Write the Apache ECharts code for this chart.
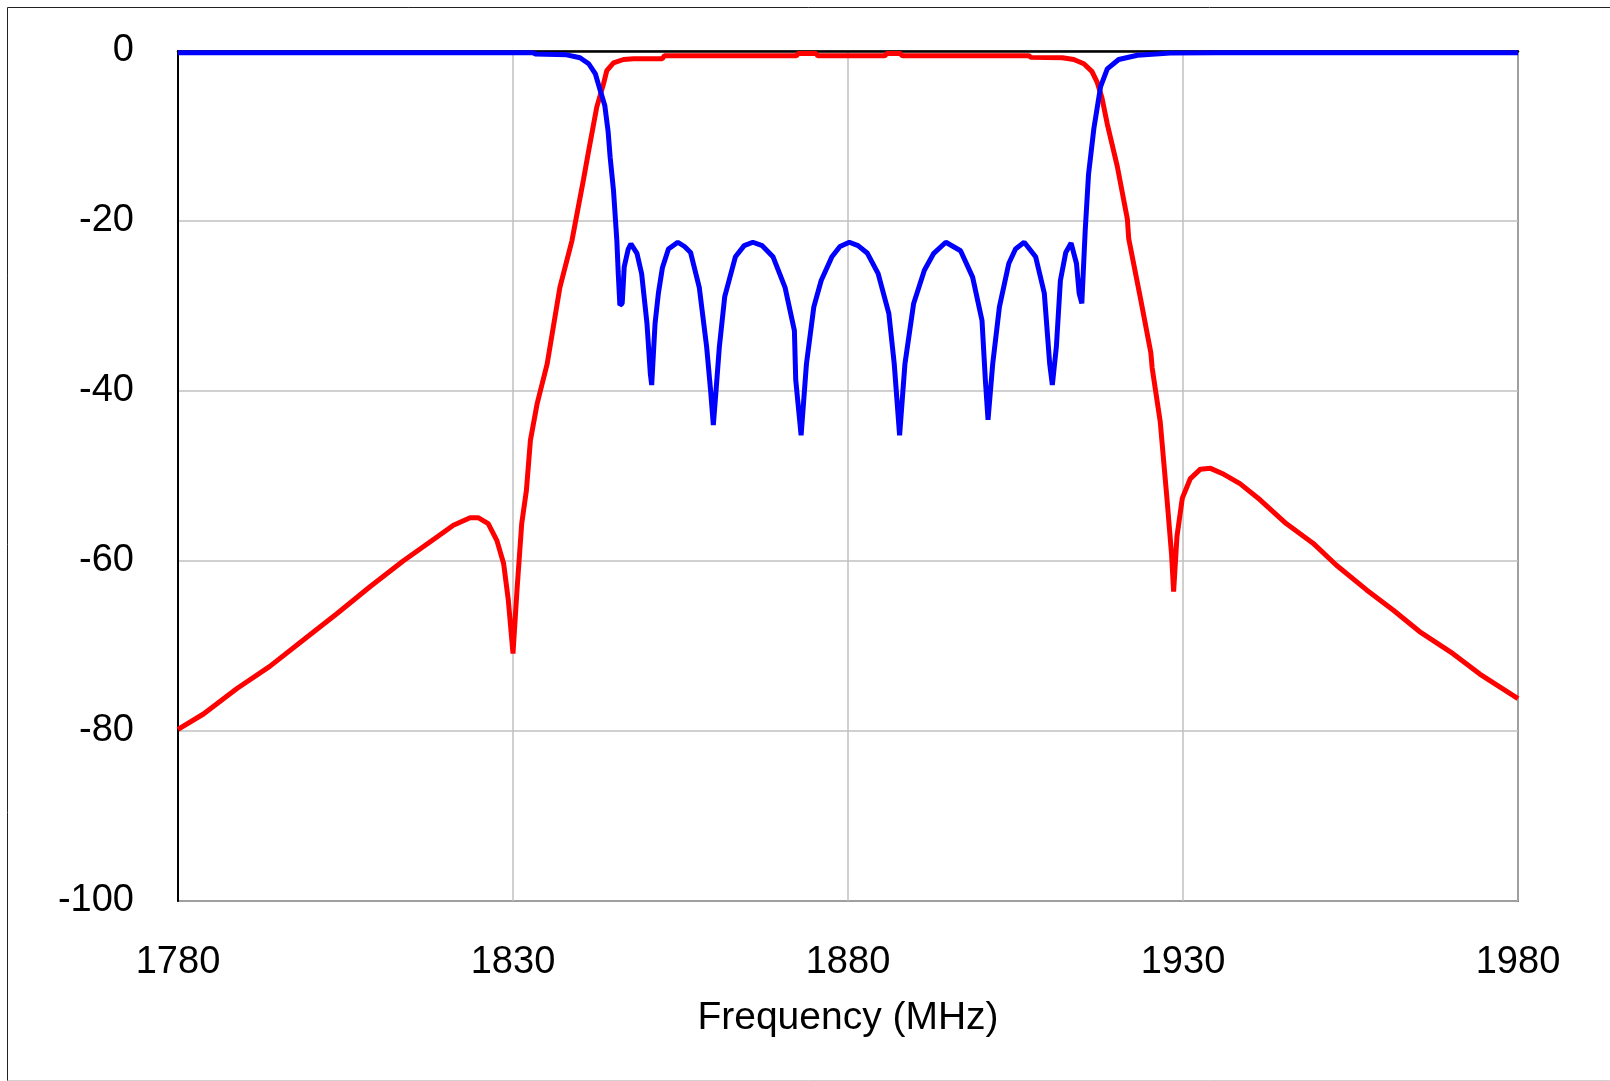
<!DOCTYPE html>
<html>
<head>
<meta charset="utf-8">
<title>Filter response</title>
<script src="https://cdn.jsdelivr.net/npm/echarts@6/dist/echarts.min.js"></script>
<style>
  html, body { margin: 0; padding: 0; background: #fff; }
  #chart { width: 1610px; height: 1081px; }
</style>
</head>
<body>
<div id="chart"></div>
<script>
// S21 (red) - transmission, dB
const s21Freq = [1780, 1783.8, 1788.8, 1793.7, 1798.7, 1803.7, 1808.7, 1813.6, 1818.6, 1821.1, 1823.6, 1824.8,
  1826.3, 1827.6, 1828.6, 1829.3, 1830.0, 1830.6, 1831.3, 1832.0, 1832.6, 1833.6, 1835.1, 1837.0, 1838.8,
  1840.5, 1841.3, 1842.5, 1843.5, 1844.0, 1845.0, 1846.5, 1848.0, 1852.3, 1852.6, 1872.3, 1872.6, 1875.2,
  1875.5, 1885.5, 1885.8, 1887.8, 1888.1, 1907.0, 1907.3, 1912.0, 1913.7, 1915.2, 1916.4, 1917.2, 1917.9,
  1918.7, 1920.2, 1921.7, 1921.9, 1923.7, 1925.2, 1925.4, 1926.6, 1927.6, 1928.3, 1928.6, 1929.1, 1929.9,
  1931.1, 1932.6, 1934.1, 1936.1, 1938.5, 1941.5, 1945.4, 1949.4, 1952.9, 1957.4, 1961.4, 1965.3, 1970.3,
  1974.3, 1980];
const s21Db = [-79.8, -78.0, -75.0, -72.4, -69.3, -66.2, -63.0, -60.0, -57.2, -55.8, -54.9, -54.9,
  -55.6, -57.6, -60.3, -64.6, -70.9, -63.4, -55.6, -51.7, -45.8, -41.5, -36.8, -27.8, -22.3,
  -15.2, -11.7, -6.6, -3.9, -2.3, -1.4, -1.0, -0.9, -0.9, -0.55, -0.55, -0.3, -0.3,
  -0.55, -0.55, -0.3, -0.3, -0.55, -0.55, -0.75, -0.8, -1.0, -1.5, -2.4, -3.7, -5.5,
  -8.6, -13.6, -19.8, -22.1, -29.3, -35.5, -37.3, -43.6, -52.6, -59.3, -63.6, -57.1, -52.6,
  -50.3, -49.2, -49.1, -49.8, -50.9, -52.8, -55.6, -57.9, -60.5, -63.4, -65.8, -68.3, -70.9,
  -73.3, -76.2];

// S11 (blue) - reflection, dB
const s11Freq = [1780, 1833.0, 1833.3, 1838.0, 1840.0, 1841.3, 1842.3, 1843.0, 1843.7, 1844.2, 1844.5, 1845.0,
  1845.5, 1845.7, 1845.95, 1846.3, 1846.6, 1847.2, 1847.6, 1848.5, 1849.2, 1850.0, 1850.5, 1850.7, 1851.2,
  1851.7, 1852.3, 1853.2, 1854.6, 1855.6, 1856.5, 1857.8, 1858.9, 1859.5, 1859.9, 1860.3, 1860.8, 1861.6,
  1863.2, 1864.5, 1865.8, 1867.2, 1868.8, 1870.6, 1872.0, 1872.2, 1873.0, 1873.8, 1874.9, 1876.0, 1877.6,
  1878.8, 1880.2, 1881.5, 1882.9, 1884.5, 1886.1, 1886.9, 1887.7, 1888.5, 1889.8, 1891.4, 1892.8, 1894.6,
  1896.8, 1898.6, 1900.0, 1900.5, 1900.9, 1901.6, 1902.6, 1904.0, 1905.0, 1906.3, 1908.0, 1909.3, 1910.1,
  1910.5, 1911.1, 1911.7, 1912.5, 1913.3, 1914.1, 1914.5, 1914.9, 1915.4, 1915.9, 1916.7, 1917.7, 1918.7,
  1920.4, 1923.2, 1928.1, 1935.0, 1980];
const s11Db = [-0.2, -0.2, -0.35, -0.45, -0.8, -1.5, -2.7, -4.6, -6.4, -9.5, -12.5, -16.4,
  -22.3, -26.0, -29.9, -29.7, -25.4, -23.3, -22.7, -23.8, -26.2, -32.1, -38.0, -39.3, -32.1,
  -28.5, -25.5, -23.3, -22.5, -23.0, -23.7, -27.8, -34.8, -40.0, -44.0, -40.0, -34.8, -28.9,
  -24.2, -22.9, -22.5, -22.9, -24.2, -27.8, -32.9, -38.7, -45.2, -36.8, -30.1, -27.0, -24.2,
  -23.0, -22.5, -22.9, -23.8, -26.2, -30.9, -36.8, -45.2, -36.8, -29.7, -25.8, -23.8, -22.5,
  -23.5, -26.6, -31.7, -38.7, -43.4, -36.8, -30.1, -25.0, -23.3, -22.5, -24.2, -28.5, -36.8,
  -39.3, -34.8, -27.0, -23.7, -22.6, -25.0, -28.5, -29.7, -21.2, -14.5, -9.1, -4.2, -2.1,
  -1.0, -0.5, -0.25, -0.2, -0.2];

const xTicks = [1780, 1830, 1880, 1930, 1980];
const yTicks = [-100, -80, -60, -40, -20, 0];

const pairs = (xs, ys) => xs.map((x, i) => [x, ys[i]]);
const labelFont = { fontFamily: '"Liberation Sans", Arial, sans-serif', fontSize: 38, color: '#000' };

const chart = echarts.init(document.getElementById('chart'));
chart.setOption({
  animation: false,
  backgroundColor: '#fff',
  grid: {
    left: 178, right: 92, top: 51, bottom: 180,
    show: true, borderColor: '#000', borderWidth: 1.5
  },
  xAxis: {
    type: 'value',
    min: xTicks[0], max: xTicks[xTicks.length - 1], interval: 50,
    name: 'Frequency (MHz)',
    nameLocation: 'middle',
    nameGap: 98,
    nameTextStyle: Object.assign({}, labelFont, { fontSize: 39 }),
    axisLine: { show: true, lineStyle: { color: '#000', width: 2.5 } },
    axisTick: { show: false },
    axisLabel: Object.assign({ margin: 43, formatter: v => String(v) }, labelFont),
    splitLine: { show: true, lineStyle: { color: '#c0c0c0', width: 1.5 } }
  },
  yAxis: {
    type: 'value',
    min: yTicks[0], max: yTicks[yTicks.length - 1], interval: 20,
    axisLine: { show: true, lineStyle: { color: '#000', width: 2 } },
    axisTick: { show: false },
    axisLabel: Object.assign({ margin: 44, formatter: v => String(v) }, labelFont),
    splitLine: { show: true, lineStyle: { color: '#c0c0c0', width: 1.5 } }
  },
  series: [
    {
      name: 'S21', type: 'line', data: pairs(s21Freq, s21Db),
      showSymbol: false, symbol: 'none',
      lineStyle: { color: '#ff0000', width: 5 }
    },
    {
      name: 'S11', type: 'line', data: pairs(s11Freq, s11Db),
      showSymbol: false, symbol: 'none',
      lineStyle: { color: '#0000ff', width: 5 }
    }
  ],
  graphic: [
    { type: 'line', shape: { x1: 7.5, y1: 7.5, x2: 1610, y2: 7.5 }, style: { stroke: '#222', lineWidth: 1 } },
    { type: 'line', shape: { x1: 7.5, y1: 7.5, x2: 7.5, y2: 1081 }, style: { stroke: '#222', lineWidth: 1 } },
    { type: 'line', shape: { x1: 7.5, y1: 1080.5, x2: 1610, y2: 1080.5 }, style: { stroke: '#d0d0d0', lineWidth: 1 } }
  ]
});
</script>
</body>
</html>
